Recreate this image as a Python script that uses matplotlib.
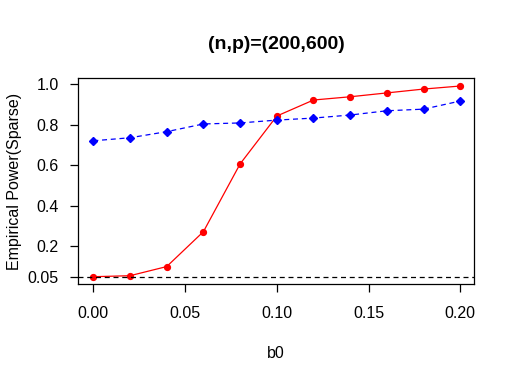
import numpy as np
import matplotlib
matplotlib.use('Agg')
from matplotlib import pyplot as plt

plt.rcParams['font.family'] = ['Liberation Sans', 'DejaVu Sans']

b0 = [0.00, 0.02, 0.04, 0.06, 0.08, 0.10, 0.12, 0.14, 0.16, 0.18, 0.20]
power_red = [0.050, 0.055, 0.100, 0.272, 0.606, 0.842, 0.921, 0.937, 0.956, 0.975, 0.990]
power_blue = [0.720, 0.735, 0.765, 0.803, 0.808, 0.822, 0.832, 0.847, 0.868, 0.876, 0.916]
yticks = [0.05, 0.2, 0.4, 0.6, 0.8, 1.0]
ytick_labels = ['0.05', '0.2', '0.4', '0.6', '0.8', '1.0']
xticks = [0.00, 0.05, 0.10, 0.15, 0.20]

fig = plt.figure(figsize=(5.16, 3.82), dpi=100)
ax = fig.add_axes([0.1517, 0.2565, 0.919 - 0.1517, 0.795 - 0.2565])

ax.plot(b0, power_red, color='red', lw=0.9, marker='o', ms=4.2)
ax.plot(b0, power_blue, color='blue', lw=0.9, ls=(0, (4, 3)), marker='D', ms=4.2)
ax.axhline(0.05, color='black', lw=0.9, ls=(0, (4, 3)))

ax.set_xlim(-0.0082, 0.2076)
ax.set_ylim(0.014, 1.028)
ax.set_xticks(xticks)
ax.set_xticklabels(['0.00', '0.05', '0.10', '0.15', '0.20'])
ax.set_yticks(yticks)
ax.set_yticklabels(ytick_labels)
ax.tick_params(direction='out', length=6, width=0.9, labelsize=11.5, pad=8)
ax.tick_params(axis='x', pad=10)
for s in ax.spines.values():
    s.set_linewidth(0.9)

ax.set_title('(n,p)=(200,600)', fontsize=14, fontweight='bold', pad=21)
ax.set_xlabel('b0', fontsize=11.5, labelpad=18)
ax.set_ylabel('Empirical Power(Sparse)', fontsize=11.5, labelpad=4)

fig.savefig('out.png', dpi=100)
